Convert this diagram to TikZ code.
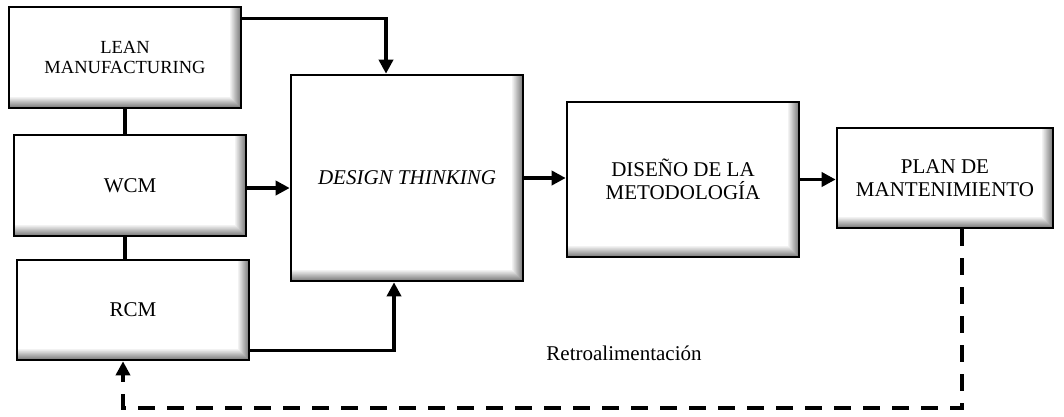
\documentclass[tikz,border=0pt]{standalone}
\usepackage{fontspec}
\setmainfont{Liberation Serif}
\usetikzlibrary{arrows.meta,calc}
\begin{document}
\begin{tikzpicture}[x=1pt,y=-1pt,
  box/.style={draw=black, line width=2.6pt, fill=white, align=center, inner sep=0pt,
    font=\fontsize{21}{22.5}\selectfont,
    path picture={
      \foreach \i in {0,...,11}{
        \pgfmathtruncatemacro\sh{round(4.6*\i)}
        \fill[black!\sh] ([xshift={(\i-12)*1pt}]path picture bounding box.north east) rectangle ([xshift={(\i-11)*1pt}]path picture bounding box.south east);
      }
      \foreach \i in {0,...,11}{
        \pgfmathtruncatemacro\sh{round(4.6*\i)}
        \fill[black!\sh] ([yshift={(12-\i)*1pt},xshift={-(12-\i)*1pt}]path picture bounding box.south west) rectangle ([yshift={(11-\i)*1pt},xshift={-(12-\i)*1pt}]path picture bounding box.south east);
      }
    }},
  conn/.style={line width=3.5pt},
  arr/.style={conn, -{Triangle[length=14pt,width=14pt]}},
  fb/.style={line width=3.5pt, dash pattern=on 17pt off 12pt, -{Triangle[length=14pt,width=14pt]}}
]
\useasboundingbox (0,0) rectangle (1064,416);
\node[box, minimum width=232, minimum height=101, font=\fontsize{18.5}{20}\selectfont] (lean) at (125,57.5) {LEAN\\MANUFACTURING};
\node[box, minimum width=232, minimum height=101] (wcm) at (130,185.5) {WCM};
\node[box, minimum width=232, minimum height=100] (rcm) at (133,310) {RCM};
\node[box, minimum width=232, minimum height=206] (dt) at (407,178) {\itshape DESIGN THINKING};
\node[box, minimum width=232, minimum height=155] (dis) at (683,179.5) {DISE\~NO DE LA\\METODOLOG\'IA};
\node[box, minimum width=216, minimum height=100] (plan) at (945,178) {PLAN DE\\MANTENIMIENTO};

\draw[conn] (lean.south) -- (wcm.north -| lean.south);
\draw[conn] (wcm.south -| lean.south) -- (rcm.north -| lean.south);
\draw[arr] ([yshift=-13pt]lean.north east) -| ([xshift=-21pt]dt.north);
\draw[arr] ([yshift=-2.5pt]wcm.east) -- ([yshift=-2.5pt]wcm.east -| dt.west);
\draw[arr] ([yshift=11pt]rcm.south east) -| ([xshift=-13pt]dt.south);
\draw[arr] (dt.east) -- (dt.east -| dis.west);
\draw[arr] (dis.east) -- (dis.east -| plan.west);
\coordinate (fbr) at (962,408);
\coordinate (fbl) at (123,408);
\draw[fb] ([xshift=17pt]plan.south) -- (fbr) -- (fbl) -- ([xshift=-10pt]rcm.south);
\node[font=\fontsize{21}{22.5}\selectfont, anchor=base] (retro) at (624,360) {Retroalimentaci\'on};
\end{tikzpicture}
\end{document}
